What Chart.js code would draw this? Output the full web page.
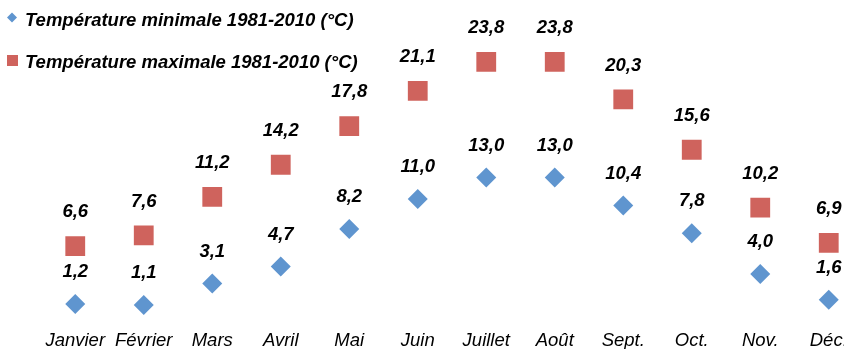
<!DOCTYPE html>
<html lang="fr">
<head>
<meta charset="utf-8">
<script src="https://cdn.jsdelivr.net/npm/chart.js@4"></script>
<style>
  html, body { margin: 0; padding: 0; background: #fff; overflow: hidden; }
  #wrap { width: 844px; height: 349px; overflow: hidden; }
</style>
</head>
<body>
<div id="wrap"><canvas id="tempChart" width="877" height="365"></canvas></div>
<script>
// Normales de température 1981-2010, par mois
const mois = ['Janvier', 'Février', 'Mars', 'Avril', 'Mai', 'Juin', 'Juillet', 'Août', 'Sept.', 'Oct.', 'Nov.', 'Déc.'];
const tempMin = [1.2, 1.1, 3.1, 4.7, 8.2, 11.0, 13.0, 13.0, 10.4, 7.8, 4.0, 1.6];
const tempMax = [6.6, 7.6, 11.2, 14.2, 17.8, 21.1, 23.8, 23.8, 20.3, 15.6, 10.2, 6.9];
const serieNoms = ['Température minimale 1981-2010 (°C)', 'Température maximale 1981-2010 (°C)'];

const BLEU = '#5f95cf';
const ROUGE = '#cf635d';
const FONT = "'Liberation Sans', Arial, sans-serif";

const fmt = v => v.toFixed(1).replace('.', ',');
const decalage = [32, 34]; // écart étiquette / marqueur, par série

// valeurs au-dessus de chaque point + légende en haut à gauche
const etiquettes = {
  id: 'etiquettes',
  afterDatasetsDraw(chart) {
    const ctx = chart.ctx;
    ctx.save();
    ctx.font = `italic bold 18.5px ${FONT}`;
    ctx.fillStyle = '#000';
    ctx.textAlign = 'center';
    ctx.textBaseline = 'middle';
    chart.data.datasets.forEach((ds, i) => {
      chart.getDatasetMeta(i).data.forEach((pt, j) => {
        ctx.fillText(fmt(ds.data[j]), pt.x, pt.y - decalage[i]);
      });
    });

    // légende
    ctx.textAlign = 'left';
    ctx.textBaseline = 'alphabetic';
    ctx.fillStyle = BLEU;
    ctx.beginPath();
    ctx.moveTo(7, 17.5); ctx.lineTo(12, 12.5); ctx.lineTo(17, 17.5); ctx.lineTo(12, 22.5);
    ctx.closePath();
    ctx.fill();
    ctx.fillStyle = ROUGE;
    ctx.fillRect(7, 55, 11, 11);
    ctx.fillStyle = '#000';
    ctx.fillText(serieNoms[0], 25, 26);
    ctx.fillText(serieNoms[1], 25, 68);
    ctx.restore();
  }
};

new Chart(document.getElementById('tempChart'), {
  type: 'line',
  data: {
    labels: mois,
    datasets: [
      {
        label: serieNoms[0],
        data: tempMin,
        showLine: false,
        pointStyle: 'rectRot',
        pointRadius: 10,
        pointBorderWidth: 0,
        pointBackgroundColor: BLEU,
        borderColor: BLEU
      },
      {
        label: serieNoms[1],
        data: tempMax,
        showLine: false,
        pointStyle: 'rect',
        pointRadius: 14,
        pointBorderWidth: 0,
        pointBackgroundColor: ROUGE,
        borderColor: ROUGE
      }
    ]
  },
  options: {
    responsive: false,
    animation: false,
    layout: { padding: { left: 41, right: 0, top: 17, bottom: 0 } },
    plugins: {
      legend: { display: false },
      tooltip: { enabled: false }
    },
    scales: {
      x: {
        offset: true,
        grid: { display: false, drawTicks: false },
        border: { display: false },
        ticks: {
          color: '#000',
          padding: 13,
          maxRotation: 0,
          autoSkip: false,
          font: { family: FONT, size: 18.5, style: 'italic' }
        }
      },
      y: {
        display: false,
        min: 0,
        max: 28
      }
    }
  },
  plugins: [etiquettes]
});
</script>
</body>
</html>
